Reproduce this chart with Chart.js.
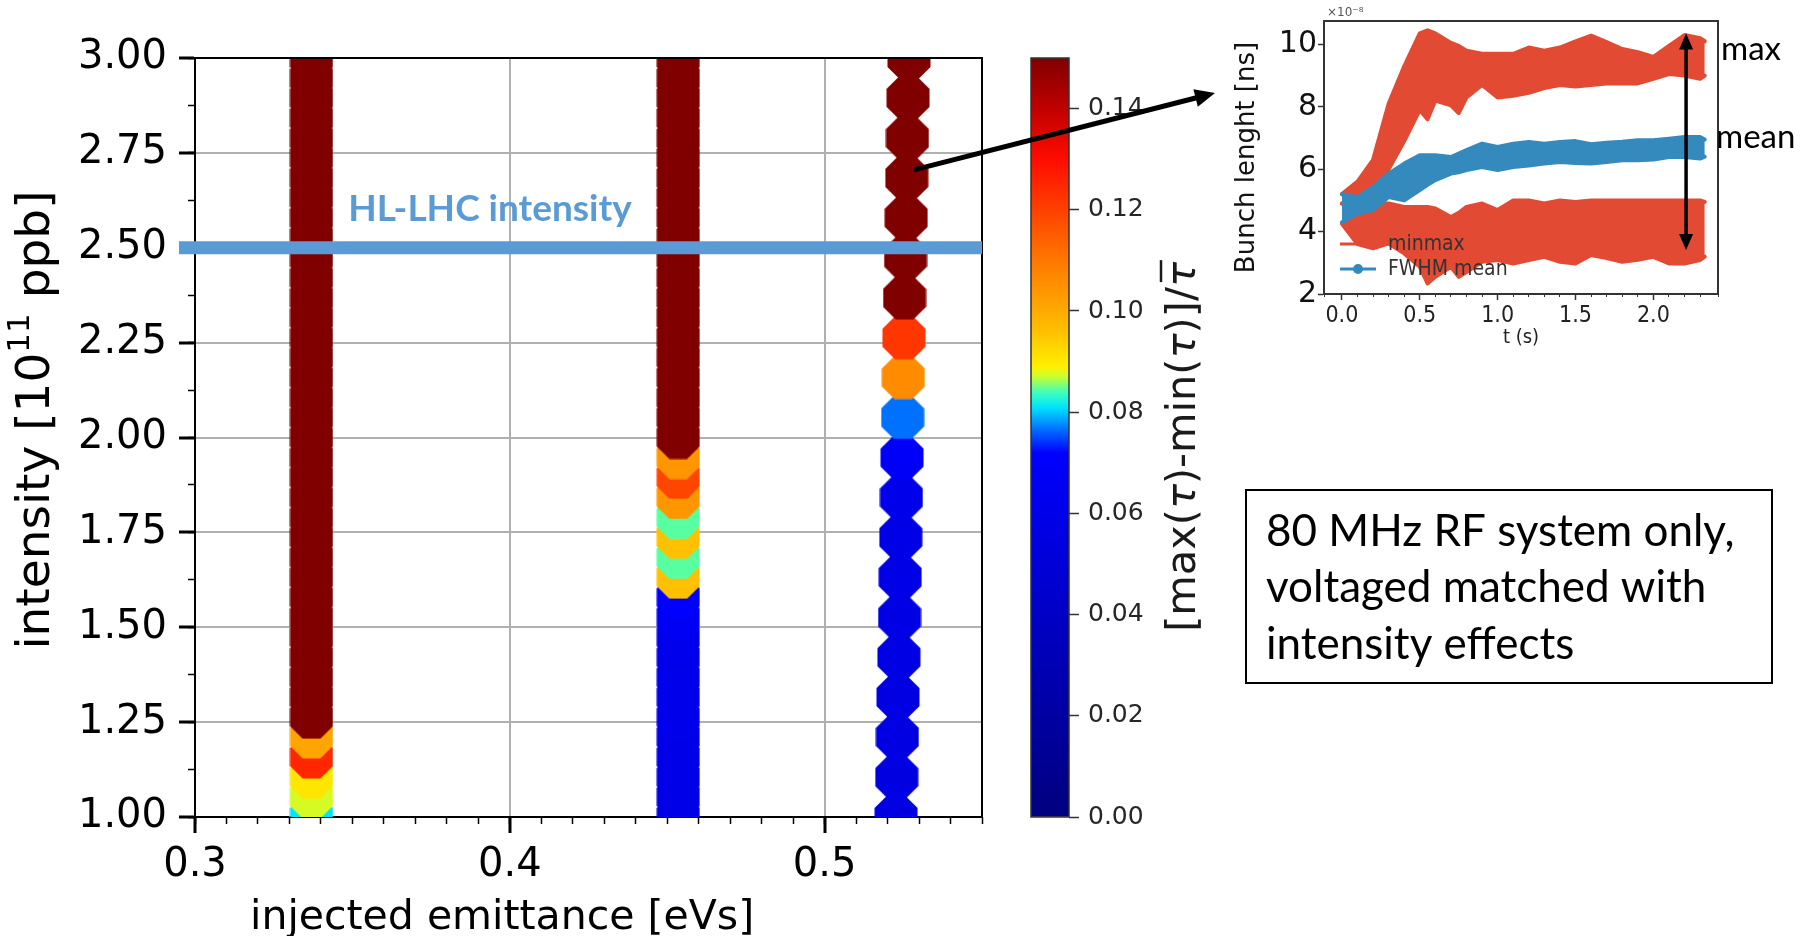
<!DOCTYPE html>
<html>
<head>
<meta charset="utf-8">
<title>Bunch length spread vs intensity and emittance</title>
<script src="https://cdn.jsdelivr.net/npm/chart.js@4.4.1/dist/chart.umd.min.js"></script>
<style>
  html, body { margin: 0; padding: 0; background: #fff; }
  #page { position: relative; width: 1804px; height: 936px; overflow: hidden; }
  canvas { position: absolute; }
  #cbar { left: 1000px; top: 0; z-index: 1; }
  #inset { left: 1200px; top: 0; z-index: 2; }
  #main { left: 0; top: 0; z-index: 3; }
</style>
</head>
<body>
<div id="page">
  <canvas id="cbar" width="250" height="936"></canvas>
  <canvas id="inset" width="604" height="360"></canvas>
  <canvas id="main" width="1804" height="936"></canvas>
</div>
<script>
// ---- main scatter: intensity scan at three injected emittances ----
const denseY = [1.000, 1.053, 1.105, 1.158, 1.211, 1.263, 1.316, 1.368, 1.421, 1.474,
  1.526, 1.579, 1.632, 1.684, 1.737, 1.789, 1.842, 1.895, 1.947, 2.000,
  2.053, 2.105, 2.158, 2.211, 2.263, 2.316, 2.368, 2.421, 2.474, 2.526,
  2.579, 2.632, 2.684, 2.737, 2.789, 2.842, 2.895, 2.947, 3.000];
const col1X = 0.337;
const col1V = [0.081, 0.0875, 0.0905, 0.125, 0.101,
  0.15, 0.15, 0.15, 0.15, 0.15, 0.15, 0.15, 0.15, 0.15, 0.15, 0.15, 0.15,
  0.15, 0.15, 0.15, 0.15, 0.15, 0.15, 0.15, 0.15, 0.15, 0.15, 0.15, 0.15,
  0.15, 0.15, 0.15, 0.15, 0.15, 0.15, 0.15, 0.15, 0.15, 0.15];
const col2X = 0.4535;
const col2V = [0.058, 0.058, 0.059, 0.059, 0.059, 0.060, 0.060, 0.060, 0.061, 0.062, 0.066, 0.072,
  0.096, 0.0845, 0.096, 0.0845, 0.104, 0.119, 0.104,
  0.15, 0.15, 0.15, 0.15, 0.15, 0.15, 0.15, 0.15, 0.15, 0.15,
  0.15, 0.15, 0.15, 0.15, 0.15, 0.15, 0.15, 0.15, 0.15, 0.15];
const col3Y = [1.00, 1.105, 1.211, 1.316, 1.421, 1.526, 1.632, 1.737, 1.842, 1.947,
  2.053, 2.158, 2.263, 2.368, 2.474, 2.579, 2.684, 2.789, 2.895, 3.00];
const col3X = [0.5227, 0.5229, 0.5231, 0.5233, 0.5236, 0.5238, 0.5240, 0.5242, 0.5244, 0.5246,
  0.5248, 0.5250, 0.5252, 0.5254, 0.5257, 0.5259, 0.5261, 0.5263, 0.5265, 0.5268];
const col3V = [0.055, 0.055, 0.056, 0.056, 0.057, 0.057, 0.058, 0.058, 0.060, 0.068,
  0.0766, 0.106, 0.122, 0.15, 0.15, 0.15, 0.15, 0.15, 0.15, 0.15];
const xTicksMain = [0.3, 0.55];
const hlIntensity = 2.5;

// colour scale (value, colour)
const cbarMax = 0.15;
const cmapStops = [
  [0.000, '#00007f'], [0.072, '#0000ff'], [0.076, '#0060ff'], [0.081, '#00e4ff'],
  [0.084, '#40ffb8'], [0.087, '#c8ff30'], [0.089, '#fff000'], [0.096, '#ffc000'],
  [0.102, '#ffa000'], [0.110, '#ff7800'], [0.120, '#ff4000'], [0.130, '#ff0c00'],
  [0.140, '#c00000'], [0.150, '#800000']];

// ---- inset: bunch length vs time ----
const insetT = [0, 0.1, 0.2, 0.3, 0.4, 0.5, 0.55, 0.6, 0.7, 0.75, 0.8, 0.9, 1.0, 1.1, 1.2,
  1.3, 1.4, 1.5, 1.6, 1.7, 1.8, 1.9, 2.0, 2.1, 2.2, 2.3, 2.33];
const maxHi = [5.2, 5.6, 6.3, 8.1, 9.3, 10.35, 10.45, 10.35, 10.05, 9.95, 9.8, 9.7, 9.7, 9.7, 9.9,
  9.8, 9.9, 10.1, 10.28, 10.07, 9.85, 9.75, 9.6, 9.95, 10.3, 10.2, 10.1];
const maxLo = [4.9, 5.0, 5.3, 6.0, 6.9, 7.9, 7.6, 8.2, 8.05, 7.8, 8.3, 8.7, 8.3, 8.35, 8.45,
  8.6, 8.7, 8.65, 8.7, 8.75, 8.75, 8.75, 8.9, 9.05, 9.0, 8.9, 9.0];
const meanHi = [5.2, 5.1, 5.43, 5.86, 6.18, 6.45, 6.45, 6.45, 6.39, 6.5, 6.61, 6.82, 6.71, 6.82, 6.87,
  6.82, 6.87, 6.9, 6.8, 6.85, 6.88, 6.93, 6.93, 6.98, 7.03, 7.03, 6.95];
const meanLo = [4.3, 4.58, 4.69, 5.11, 5.0, 5.33, 5.5, 5.65, 5.86, 5.9, 5.97, 6.07, 5.97, 6.07, 6.12,
  6.18, 6.23, 6.2, 6.18, 6.23, 6.29, 6.29, 6.31, 6.39, 6.39, 6.34, 6.4];
const minHi = [4.9, 4.95, 4.9, 4.9, 4.79, 4.79, 4.79, 4.74, 4.47, 4.6, 4.79, 4.9, 4.69, 5.0, 5.0,
  4.9, 5.0, 4.95, 5.0, 5.0, 5.0, 5.0, 5.0, 5.0, 5.0, 5.0, 4.95];
const minLo = [4.25, 3.6, 3.46, 3.62, 3.3, 2.87, 2.34, 2.55, 2.87, 2.55, 2.7, 3.03, 3.09, 2.98, 3.09,
  3.19, 3.03, 2.98, 3.25, 3.15, 3.03, 3.1, 3.19, 2.98, 2.98, 3.09, 3.2];
const arrowT = 2.21, arrowTop = 10.35, arrowBottom = 3.41;

const RED = '#E24A33', BLUE = '#348ABD', HL = '#5B9BD5';
const DV = '"DejaVu Sans"';
const DVC = '"DejaVu Sans Condensed", "DejaVu Sans"';

function hexRgb(h) { return [1, 3, 5].map(i => parseInt(h.slice(i, i + 2), 16)); }
function cmap(v) {
  if (v <= cmapStops[0][0]) return cmapStops[0][1];
  for (let i = 1; i < cmapStops.length; i++) {
    if (v <= cmapStops[i][0]) {
      const [v0, c0] = cmapStops[i - 1], [v1, c1] = cmapStops[i];
      const f = (v - v0) / (v1 - v0), a = hexRgb(c0), b = hexRgb(c1);
      return 'rgb(' + a.map((x, j) => Math.round(x + (b[j] - x) * f)).join(',') + ')';
    }
  }
  return cmapStops[cmapStops.length - 1][1];
}

// octagon markers like the matplotlib ones
const octCache = {};
function octagon(color) {
  if (octCache[color]) return octCache[color];
  const d = 43, s = 44, c = document.createElement('canvas');
  c.width = c.height = s;
  const g = c.getContext('2d'), r = d / 2 / Math.cos(Math.PI / 8), m = s / 2;
  g.beginPath();
  for (let k = 0; k < 8; k++) {
    const a = Math.PI / 8 + k * Math.PI / 4;
    g.lineTo(m + r * Math.cos(a), m + r * Math.sin(a));
  }
  g.closePath();
  g.fillStyle = color;
  g.fill();
  return (octCache[color] = c);
}

function column(xs, ys, vs) {
  return {
    data: ys.map((y, i) => ({ x: Array.isArray(xs) ? xs[i] : xs, y: y, v: vs[i] })),
    showLine: false,
    pointRadius: 22,
    pointStyle: ctx => (ctx.raw ? octagon(cmap(ctx.raw.v)) : 'circle'),
    clip: 0
  };
}

function arrowHead(ctx, x0, y0, x1, y1, len, half) {
  const a = Math.atan2(y1 - y0, x1 - x0);
  ctx.beginPath();
  ctx.moveTo(x1, y1);
  ctx.lineTo(x1 - len * Math.cos(a) + half * Math.sin(a), y1 - len * Math.sin(a) - half * Math.cos(a));
  ctx.lineTo(x1 - len * Math.cos(a) - half * Math.sin(a), y1 - len * Math.sin(a) + half * Math.cos(a));
  ctx.closePath();
  ctx.fill();
}

const mainDecor = {
  id: 'mainDecor',
  afterDraw(chart) {
    const { ctx, chartArea: a, scales: { x, y } } = chart;
    ctx.save();
    // top / right spines
    ctx.strokeStyle = '#000';
    ctx.lineWidth = 2;
    ctx.beginPath();
    ctx.moveTo(a.left, a.top); ctx.lineTo(a.right, a.top); ctx.lineTo(a.right, a.bottom);
    ctx.stroke();

    // HL-LHC intensity line + label
    const yh = y.getPixelForValue(hlIntensity);
    ctx.strokeStyle = HL;
    ctx.lineWidth = 13;
    ctx.beginPath(); ctx.moveTo(a.left - 16, yh); ctx.lineTo(a.right, yh); ctx.stroke();
    ctx.fillStyle = HL;
    ctx.font = 'bold 37px Lato';
    ctx.textBaseline = 'alphabetic';
    ctx.textAlign = 'left';
    ctx.fillText('HL-LHC intensity', x.getPixelForValue(0.3487), yh - 27);

    // axis titles
    ctx.fillStyle = '#000';
    ctx.font = '41px ' + DV;
    ctx.fillText('injected emittance [eVs]', 250, 929);
    ctx.save();
    ctx.translate(49, 420);
    ctx.rotate(-Math.PI / 2);
    const parts = [['intensity [10', '47px ' + DV, 0], ['11', '31px ' + DV, -20], [' ppb]', '47px ' + DV, 0]];
    let w = 0;
    parts.forEach(p => { ctx.font = p[1]; w += ctx.measureText(p[0]).width; });
    let xx = -w / 2;
    parts.forEach(p => { ctx.font = p[1]; ctx.fillText(p[0], xx, p[2]); xx += ctx.measureText(p[0]).width; });
    ctx.restore();

    // arrow towards the inset
    const sx = x.getPixelForValue(0.5284), sy = y.getPixelForValue(2.705);
    const ex = 1215, ey = 93;
    const ang = Math.atan2(ey - sy, ex - sx);
    ctx.strokeStyle = '#000';
    ctx.fillStyle = '#000';
    ctx.lineWidth = 5;
    ctx.beginPath(); ctx.moveTo(sx, sy); ctx.lineTo(ex - 16 * Math.cos(ang), ey - 16 * Math.sin(ang)); ctx.stroke();
    arrowHead(ctx, sx, sy, ex, ey, 20, 9);

    // text box
    ctx.lineWidth = 2;
    ctx.strokeRect(1246, 490, 526, 193);
    ctx.font = '44px Lato';
    ctx.fillText('80 MHz RF system only,', 1266, 546);
    ctx.fillText('voltaged matched with', 1266, 602);
    ctx.fillText('intensity effects', 1266, 659);
    ctx.restore();
  }
};

new Chart(document.getElementById('main'), {
  type: 'scatter',
  data: { datasets: [column(col1X, denseY, col1V), column(col2X, denseY, col2V), column(col3X, col3Y, col3V)] },
  options: {
    responsive: false, animation: false, events: [],
    layout: { padding: { left: 0, top: 58, right: 822, bottom: 0 } },
    plugins: { legend: { display: false }, tooltip: { enabled: false } },
    scales: {
      x: {
        type: 'linear', position: 'bottom', min: xTicksMain[0], max: xTicksMain[1], z: 1, weight: 0,
        afterFit: s => { s.height = 119; },
        ticks: { stepSize: 0.1, includeBounds: false, callback: v => v.toFixed(1), font: { family: DV, size: 40 }, color: '#000', padding: 9, maxRotation: 0 },
        grid: { color: '#b0b0b0', lineWidth: 2, tickLength: 16, tickWidth: 3, tickColor: '#000' },
        border: { color: '#000', width: 2 }
      },
      xm: {
        type: 'linear', position: 'bottom', min: xTicksMain[0], max: xTicksMain[1], z: 1, weight: -1,
        afterFit: s => { s.height = 0; },
        ticks: { stepSize: 0.01, display: false, autoSkip: false },
        grid: { drawOnChartArea: false, tickLength: 7, tickWidth: 1.5, tickColor: '#000' },
        border: { display: false }
      },
      y: {
        type: 'linear', position: 'left', min: 1, max: 3, z: 1, weight: 0,
        afterFit: s => { s.width = 195; },
        ticks: { stepSize: 0.25, includeBounds: false, callback: v => v.toFixed(2), font: { family: DV, size: 40 }, color: '#000', padding: 12 },
        grid: { color: '#b0b0b0', lineWidth: 2, tickLength: 16, tickWidth: 3, tickColor: '#000' },
        border: { color: '#000', width: 2 }
      },
      ym: {
        type: 'linear', position: 'left', min: 1, max: 3, z: 1, weight: -1,
        afterFit: s => { s.width = 0; },
        ticks: { stepSize: 0.125, display: false, autoSkip: false },
        grid: { drawOnChartArea: false, tickLength: 7, tickWidth: 1.5, tickColor: '#000' },
        border: { display: false }
      }
    }
  },
  plugins: [mainDecor]
});

// ---- colour bar ----
function cbarGradient(chart) {
  const ys = chart.scales.y;
  if (!chart.chartArea || !ys) return cmapStops[0][1];
  const g = chart.ctx.createLinearGradient(0, ys.getPixelForValue(0), 0, ys.getPixelForValue(cbarMax));
  cmapStops.forEach(([v, c]) => g.addColorStop(v / cbarMax, c));
  return g;
}
const cbarDecor = {
  id: 'cbarDecor',
  afterDraw(chart) {
    const { ctx, chartArea: a } = chart;
    ctx.save();
    ctx.strokeStyle = '#333';
    ctx.lineWidth = 1.5;
    ctx.strokeRect(a.left, a.top, a.right - a.left, a.bottom - a.top);
    // rotated label  [max(τ)-min(τ)]/τ̄
    ctx.translate(195, 447);
    ctx.rotate(-Math.PI / 2);
    ctx.fillStyle = '#1a1a1a';
    ctx.textBaseline = 'alphabetic';
    const up = '41.5px ' + DV, it = 'italic 41.5px ' + DV;
    const segs = [['[max(', up], ['τ', it], [')-min(', up], ['τ', it], [')]/', up], ['τ', it]];
    let w = 0;
    segs.forEach(s => { ctx.font = s[1]; w += ctx.measureText(s[0]).width; });
    let xx = -w / 2;
    segs.forEach((s, i) => {
      ctx.font = s[1];
      const sw = ctx.measureText(s[0]).width;
      ctx.fillText(s[0], xx, 0);
      if (i === segs.length - 1) {
        ctx.lineWidth = 2.5;
        ctx.strokeStyle = '#1a1a1a';
        ctx.beginPath(); ctx.moveTo(xx + 5, -34); ctx.lineTo(xx + sw + 2, -34); ctx.stroke();
      }
      xx += sw;
    });
    ctx.restore();
  }
};
new Chart(document.getElementById('cbar'), {
  type: 'bar',
  data: { labels: [''], datasets: [{ data: [cbarMax], backgroundColor: c => cbarGradient(c.chart), borderWidth: 0, barPercentage: 1, categoryPercentage: 1 }] },
  options: {
    responsive: false, animation: false, events: [],
    layout: { padding: { left: 31, top: 58, right: 0, bottom: 119 } },
    plugins: { legend: { display: false }, tooltip: { enabled: false } },
    scales: {
      x: { display: false },
      y: {
        position: 'right', min: 0, max: cbarMax,
        afterFit: s => { s.width = 181; },
        ticks: { stepSize: 0.02, includeBounds: false, callback: v => v.toFixed(2), font: { family: DV, size: 25 }, color: '#262626', padding: 9 },
        grid: { drawOnChartArea: false, tickLength: 10, tickWidth: 1.5, tickColor: '#333' },
        border: { display: false }
      }
    }
  },
  plugins: [cbarDecor]
});

// ---- inset ----
function band(vals, color, order, fill) {
  return {
    data: insetT.map((t, i) => ({ x: t, y: vals[i] })),
    borderColor: color, backgroundColor: color, borderWidth: 4,
    pointRadius: 0, tension: 0, order: order, fill: fill,
    borderJoinStyle: 'round', borderCapStyle: 'round'
  };
}
const insetDecor = {
  id: 'insetDecor',
  afterDraw(chart) {
    const { ctx, chartArea: a, scales: { x, y } } = chart;
    const ox = 1200;
    ctx.save();
    ctx.strokeStyle = '#333';
    ctx.lineWidth = 2;
    ctx.beginPath();
    ctx.moveTo(a.left, a.top); ctx.lineTo(a.right, a.top); ctx.lineTo(a.right, a.bottom);
    ctx.stroke();

    ctx.fillStyle = '#555';
    ctx.font = '12px ' + DV;
    ctx.textBaseline = 'alphabetic';
    ctx.fillText('×10⁻⁸', a.left + 3, a.top - 5);

    // legend
    ctx.lineWidth = 3;
    ctx.strokeStyle = RED;
    ctx.beginPath(); ctx.moveTo(1340 - ox, 244); ctx.lineTo(1376 - ox, 244); ctx.stroke();
    ctx.strokeStyle = BLUE;
    ctx.beginPath(); ctx.moveTo(1340 - ox, 269); ctx.lineTo(1376 - ox, 269); ctx.stroke();
    ctx.fillStyle = BLUE;
    ctx.beginPath(); ctx.arc(1358 - ox, 269, 5, 0, 2 * Math.PI); ctx.fill();
    ctx.fillStyle = '#333';
    ctx.font = '21px ' + DVC;
    ctx.textBaseline = 'middle';
    ctx.fillText('minmax', 1388 - ox, 245);
    ctx.fillText('FWHM mean', 1388 - ox, 270);

    // double arrow spanning the bunch length spread
    const ax = x.getPixelForValue(arrowT), at = y.getPixelForValue(arrowTop), ab = y.getPixelForValue(arrowBottom);
    ctx.strokeStyle = '#000';
    ctx.fillStyle = '#000';
    ctx.lineWidth = 3.5;
    ctx.beginPath(); ctx.moveTo(ax, at + 14); ctx.lineTo(ax, ab - 14); ctx.stroke();
    arrowHead(ctx, ax, ab, ax, at, 16, 7);
    arrowHead(ctx, ax, at, ax, ab, 16, 7);

    // labels outside the box
    ctx.textBaseline = 'alphabetic';
    ctx.font = '33px Lato';
    ctx.fillText('max', 1721 - ox, 60);
    ctx.fillText('mean', 1716 - ox, 148);
    ctx.restore();
  }
};
new Chart(document.getElementById('inset'), {
  type: 'line',
  data: {
    datasets: [
      band(maxLo, RED, 1, false), band(maxHi, RED, 1, '-1'),
      band(minLo, RED, 1, false), band(minHi, RED, 1, '-1'),
      band(meanLo, BLUE, 0, false), band(meanHi, BLUE, 0, '-1')
    ]
  },
  options: {
    responsive: false, animation: false, events: [],
    layout: { padding: { left: 0, top: 21, right: 86, bottom: 0 } },
    plugins: { legend: { display: false }, tooltip: { enabled: false } },
    scales: {
      x: {
        type: 'linear', position: 'bottom', min: -0.115, max: 2.415, weight: 0,
        afterFit: s => { s.height = 66; },
        ticks: { stepSize: 0.5, includeBounds: false, callback: v => v.toFixed(1), font: { family: DVC, size: 23 }, color: '#222', padding: 2, maxRotation: 0 },
        grid: { drawOnChartArea: false, tickLength: 6, tickWidth: 1.5, tickColor: '#333' },
        border: { color: '#333', width: 2 },
        title: { display: true, text: 't (s)', font: { family: DVC, size: 20 }, color: '#222', padding: { top: 0, bottom: 10 } }
      },
      xm: {
        type: 'linear', position: 'bottom', min: -0.115, max: 2.415, weight: -1,
        afterFit: s => { s.height = 0; },
        ticks: { stepSize: 0.1, display: false, autoSkip: false },
        grid: { drawOnChartArea: false, tickLength: 3, tickWidth: 1, tickColor: '#333' },
        border: { display: false }
      },
      y: {
        type: 'linear', position: 'left', min: 2, max: 10.75,
        afterFit: s => { s.width = 124; },
        ticks: { stepSize: 2, includeBounds: false, font: { family: DV, size: 30 }, color: '#111', padding: 1 },
        grid: { drawOnChartArea: false, tickLength: 6, tickWidth: 1.5, tickColor: '#333' },
        border: { color: '#333', width: 2 },
        title: { display: true, text: 'Bunch lenght [ns]', font: { family: DV, size: 26 }, color: '#111', padding: { top: 32, bottom: 0 } }
      }
    }
  },
  plugins: [insetDecor]
});
</script>
</body>
</html>
